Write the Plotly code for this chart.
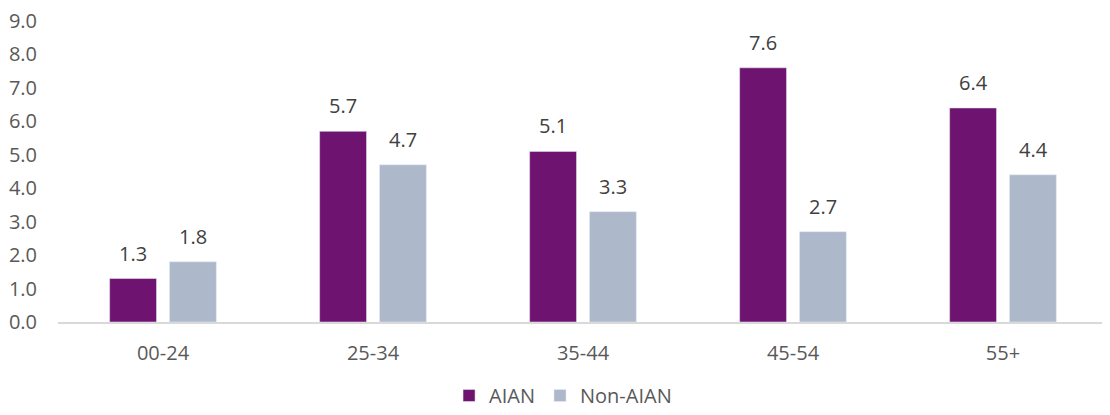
import plotly.graph_objects as go

categories = ["00-24", "25-34", "35-44", "45-54", "55+"]
aian = [1.3, 5.7, 5.1, 7.6, 6.4]
non_aian = [1.8, 4.7, 3.3, 2.7, 4.4]
y_ticks = [0, 1, 2, 3, 4, 5, 6, 7, 8, 9]

FONT = "Open Sans"
TXT = "#595959"
SIZE = 20

fig = go.Figure()
fig.add_trace(go.Bar(x=categories, y=aian, name="AIAN", marker=dict(color="#6E1470")))
fig.add_trace(go.Bar(x=categories, y=non_aian, name="Non-AIAN", marker=dict(color="#ADB9CA")))

for vals, shift in ((aian, -30), (non_aian, 30)):
    for c, v in zip(categories, vals):
        fig.add_annotation(x=c, y=v, text=f"{v:.1f}", showarrow=False,
                           xshift=shift, yshift=10, yanchor="bottom",
                           font=dict(family=FONT, size=SIZE, color="#404040"))

# page body has an 8px default margin (left/top)
fig.update_layout(
    width=1102, height=407,
    margin=dict(l=50, r=2, t=13, b=93),
    paper_bgcolor="white", plot_bgcolor="white",
    barmode="group", bargap=0.43, bargroupgap=0.217,
    font=dict(family=FONT, size=SIZE, color=TXT),
    showlegend=True,
    legend=dict(orientation="h", x=0.481, xanchor="center",
                yref="container", y=0, yanchor="bottom",
                font=dict(family=FONT, size=SIZE, color=TXT)),
)
fig.update_xaxes(showline=True, linecolor="#D9D9D9", linewidth=2, automargin=False,
                 ticks="", tickfont=dict(family=FONT, size=SIZE, color=TXT),
                 ticklabelstandoff=12)
fig.update_yaxes(range=[0, 9], tickvals=y_ticks, ticktext=[f"{v:.1f}" for v in y_ticks],
                 showgrid=False, zeroline=False, showline=False, automargin=False,
                 ticklabeloverflow="allow",
                 tickfont=dict(family=FONT, size=SIZE, color=TXT),
                 ticklabelstandoff=20)

fig.write_html("out.html")
